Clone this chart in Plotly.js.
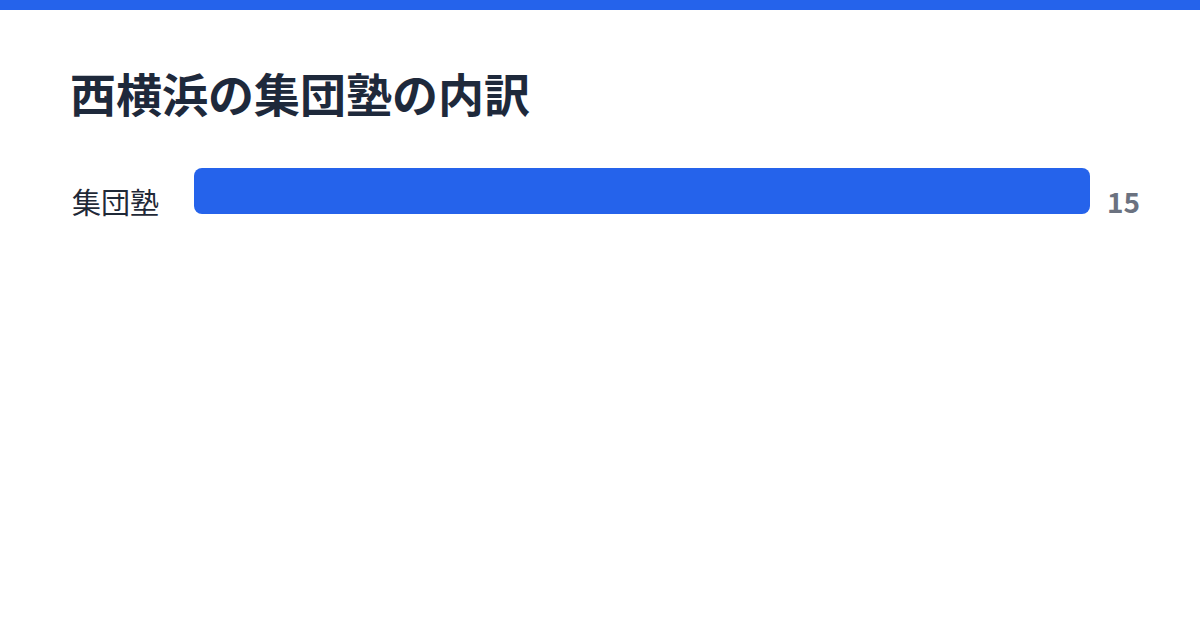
<!DOCTYPE html>
<html>
<head>
<meta charset="utf-8">
<script src="https://cdn.plot.ly/plotly-3.0.1.min.js"></script>
<style>
  html, body { margin: 0; padding: 0; background: #fff; }
  #chart { width: 1200px; height: 630px; }
</style>
</head>
<body>
<div id="chart"></div>
<script>
// data
const categories = ["集団塾"];
const counts = [15];
const chartTitle = "西横浜の集団塾の内訳";

const blue = "#2563eb";
const W = 1200, H = 630;
const m = { l: 194, r: 110, t: 168, b: 416 };
const pw = W - m.l - m.r, ph = H - m.t - m.b;

// bar drawn from its end back to zero: with a non-zero base plotly rounds both ends
const trace = {
  type: "bar",
  orientation: "h",
  y: categories,
  base: counts,
  x: counts.map(v => -v),
  width: 1,
  marker: { color: blue, cornerradius: 8, line: { width: 0 } },
  hoverinfo: "skip",
};

const layout = {
  width: W,
  height: H,
  margin: m,
  paper_bgcolor: "#fff",
  plot_bgcolor: "#fff",
  showlegend: false,
  title: {
    text: chartTitle,
    xref: "container", yref: "container",
    x: 70 / W, xanchor: "left",
    y: 1 - 96 / H, yanchor: "middle",
    font: { family: "Noto Sans CJK JP", size: 46, weight: 700, color: "#1e293b" },
  },
  xaxis: { range: [0, Math.max(...counts)], visible: false, fixedrange: true },
  yaxis: {
    range: [-0.5, 0.5],
    showgrid: false, zeroline: false, showline: false,
    ticks: "", ticklabelstandoff: 34, ticklabelshift: 13,
    tickfont: { family: "Noto Sans CJK JP", size: 29, color: "#1f2937" },
    fixedrange: true,
  },
  annotations: categories.map((c, i) => ({
    x: counts[i], y: c, xref: "x", yref: "y",
    text: String(counts[i]),
    showarrow: false, xanchor: "left", xshift: 15, yshift: -10,
    font: { family: "Noto Sans CJK JP", size: 28, weight: 700, color: "#6b7280" },
  })),
  shapes: [{
    type: "rect", xref: "paper", yref: "paper",
    x0: -m.l / pw, x1: (W - m.l) / pw,
    y0: (H - m.b - 10) / ph, y1: (H - m.b) / ph,
    fillcolor: blue, line: { width: 0 },
  }],
};

Plotly.newPlot("chart", [trace], layout, { displayModeBar: false, staticPlot: true });
</script>
</body>
</html>
